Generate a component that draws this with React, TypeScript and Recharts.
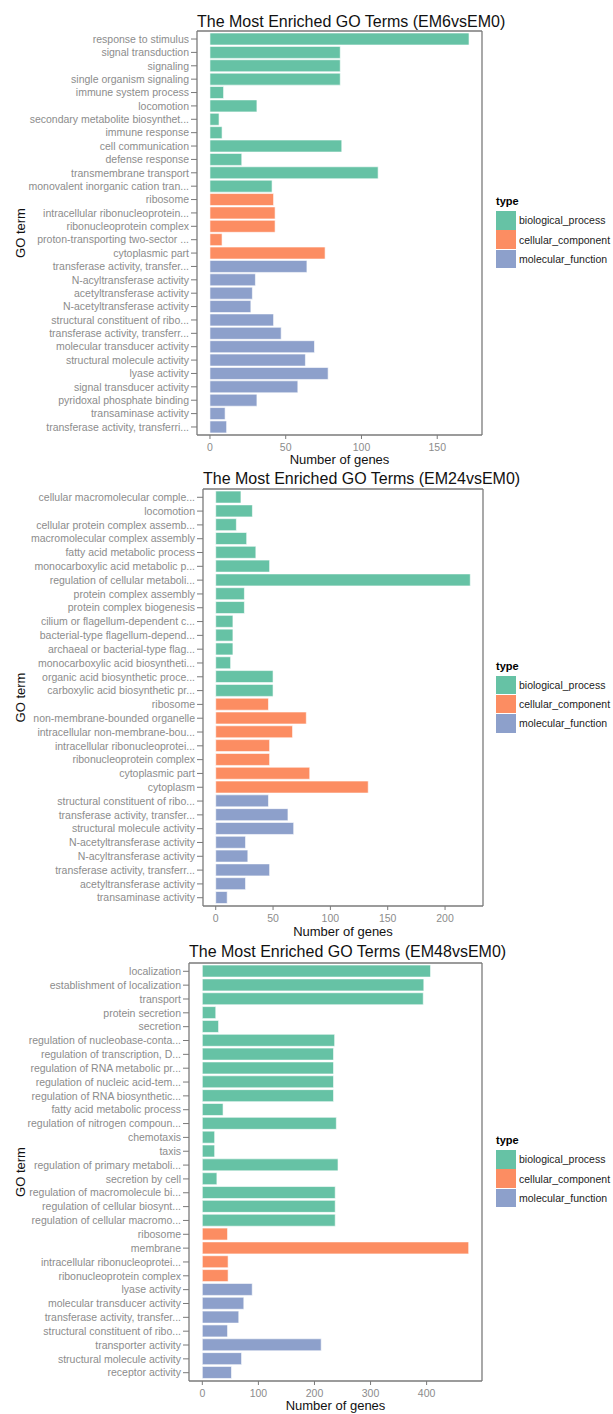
import React from 'react'
import { BarChart, Bar, XAxis, YAxis, Cell, Label, CartesianGrid } from 'recharts'

const font = '"Liberation Sans", Arial, Helvetica, sans-serif'

const typeColors: Record<string, string> = {
  BP: '#66C2A5',
  CC: '#FC8D62',
  MF: '#8DA0CB',
}
const legendTypes = ['BP', 'CC', 'MF']
const legendNames = ['biological_process', 'cellular_component', 'molecular_function']

// EM6 vs EM0
const em6Terms = [
  'response to stimulus', 'signal transduction', 'signaling', 'single organism signaling',
  'immune system process', 'locomotion', 'secondary metabolite biosynthet...', 'immune response',
  'cell communication', 'defense response', 'transmembrane transport', 'monovalent inorganic cation tran...',
  'ribosome', 'intracellular ribonucleoprotein...', 'ribonucleoprotein complex', 'proton-transporting two-sector ...',
  'cytoplasmic part', 'transferase activity, transfer...', 'N-acyltransferase activity', 'acetyltransferase activity',
  'N-acetyltransferase activity', 'structural constituent of ribo...', 'transferase activity, transferr...',
  'molecular transducer activity', 'structural molecule activity', 'lyase activity', 'signal transducer activity',
  'pyridoxal phosphate binding', 'transaminase activity', 'transferase activity, transferri...',
]
const em6Genes = [171, 86, 86, 86, 9, 31, 6, 8, 87, 21, 111, 41, 42, 43, 43, 8, 76, 64, 30, 28, 27, 42, 47, 69, 63, 78, 58, 31, 10, 11]
const em6Types = [
  'BP', 'BP', 'BP', 'BP', 'BP', 'BP', 'BP', 'BP', 'BP', 'BP', 'BP', 'BP',
  'CC', 'CC', 'CC', 'CC', 'CC',
  'MF', 'MF', 'MF', 'MF', 'MF', 'MF', 'MF', 'MF', 'MF', 'MF', 'MF', 'MF', 'MF',
]
const em6Ticks = [0, 50, 100, 150]

// EM24 vs EM0
const em24Terms = [
  'cellular macromolecular comple...', 'locomotion', 'cellular protein complex assemb...', 'macromolecular complex assembly',
  'fatty acid metabolic process', 'monocarboxylic acid metabolic p...', 'regulation of cellular metaboli...',
  'protein complex assembly', 'protein complex biogenesis', 'cilium or flagellum-dependent c...',
  'bacterial-type flagellum-depend...', 'archaeal or bacterial-type flag...', 'monocarboxylic acid biosyntheti...',
  'organic acid biosynthetic proce...', 'carboxylic acid biosynthetic pr...',
  'ribosome', 'non-membrane-bounded organelle', 'intracellular non-membrane-bou...', 'intracellular ribonucleoprotei...',
  'ribonucleoprotein complex', 'cytoplasmic part', 'cytoplasm',
  'structural constituent of ribo...', 'transferase activity, transfer...', 'structural molecule activity',
  'N-acetyltransferase activity', 'N-acyltransferase activity', 'transferase activity, transferr...',
  'acetyltransferase activity', 'transaminase activity',
]
const em24Genes = [22, 32, 18, 27, 35, 47, 222, 25, 25, 15, 15, 15, 13, 50, 50, 46, 79, 67, 47, 47, 82, 133, 46, 63, 68, 26, 28, 47, 26, 10]
const em24Types = [
  'BP', 'BP', 'BP', 'BP', 'BP', 'BP', 'BP', 'BP', 'BP', 'BP', 'BP', 'BP', 'BP', 'BP', 'BP',
  'CC', 'CC', 'CC', 'CC', 'CC', 'CC', 'CC',
  'MF', 'MF', 'MF', 'MF', 'MF', 'MF', 'MF', 'MF',
]
const em24Ticks = [0, 50, 100, 150, 200]

// EM48 vs EM0
const em48Terms = [
  'localization', 'establishment of localization', 'transport', 'protein secretion', 'secretion',
  'regulation of nucleobase-conta...', 'regulation of transcription, D...', 'regulation of RNA metabolic pr...',
  'regulation of nucleic acid-tem...', 'regulation of RNA biosynthetic...', 'fatty acid metabolic process',
  'regulation of nitrogen compoun...', 'chemotaxis', 'taxis', 'regulation of primary metaboli...',
  'secretion by cell', 'regulation of macromolecule bi...', 'regulation of cellular biosynt...',
  'regulation of cellular macromo...',
  'ribosome', 'membrane', 'intracellular ribonucleoprotei...', 'ribonucleoprotein complex',
  'lyase activity', 'molecular transducer activity', 'transferase activity, transfer...',
  'structural constituent of ribo...', 'transporter activity', 'structural molecule activity', 'receptor activity',
]
const em48Genes = [407, 395, 394, 24, 29, 236, 234, 234, 234, 234, 37, 239, 22, 22, 242, 26, 237, 237, 237, 45, 475, 46, 46, 89, 74, 65, 45, 212, 70, 52]
const em48Types = [
  'BP', 'BP', 'BP', 'BP', 'BP', 'BP', 'BP', 'BP', 'BP', 'BP', 'BP', 'BP', 'BP', 'BP', 'BP', 'BP', 'BP', 'BP', 'BP',
  'CC', 'CC', 'CC', 'CC',
  'MF', 'MF', 'MF', 'MF', 'MF', 'MF', 'MF',
]
const em48Ticks = [0, 100, 200, 300, 400]

const frame = '#7a7a7a'
const tickGrey = '#8c8c8c'

const GoTermLabel = (props: any) => {
  const vb = props.viewBox || { y: 0, height: 0 }
  const cy = vb.y + vb.height / 2
  return (
    <text x={25} y={cy} transform={`rotate(-90, 25, ${cy})`} textAnchor="middle" fontSize={13} fill="#111">
      GO term
    </text>
  )
}

// plain one-line tick so long GO names are not wrapped
const TermTick = (props: any) => {
  const { x, y, payload } = props
  return (
    <text x={x} y={y} dy="0.355em" textAnchor="end" fontSize={10.5} fill={tickGrey}>
      {payload.value}
    </text>
  )
}

// top and right sides of the panel border
const topEdge = ({ offset }: any) => [offset.top]
const rightEdge = ({ offset }: any) => [offset.left + offset.width]

function TypeLegend({ cy }: { cy: number }) {
  return (
    <div style={{ position: 'absolute', left: 496, top: cy - 38.8, fontFamily: font }}>
      <div style={{ fontSize: 11, fontWeight: 'bold', lineHeight: '14px', height: 16.5 }}>type</div>
      {legendTypes.map((t, i) => (
        <div key={t} style={{ display: 'flex', alignItems: 'center', height: 19.3 }}>
          <div style={{ width: 20, height: 18.5, background: typeColors[t] }} />
          <span style={{ marginLeft: 3, fontSize: 10.5, color: '#222' }}>{legendNames[i]}</span>
        </div>
      ))}
    </div>
  )
}

function GoPanel(props: any) {
  const { top, height, title, terms, genes, types, ticks, plot, titleBaseline, xTitleOffset } = props
  const data = terms.map((term: string, i: number) => ({ term, genes: genes[i], type: types[i] }))
  const max = Math.max(...genes)
  const dom = [-0.05 * max, 1.05 * max]
  const plotH = plot.bottom - plot.top
  const pad = plotH / 302
  const cy = (plot.top + plot.bottom) / 2
  return (
    <>
      <div
        style={{
          position: 'absolute', left: plot.left, width: plot.right - plot.left, top: titleBaseline - 13.5,
          textAlign: 'center', fontSize: 16, lineHeight: '16px', whiteSpace: 'nowrap', fontFamily: font, color: '#111',
        }}
      >
        {title}
      </div>
      <div style={{ position: 'absolute', left: 0, top }}>
        <BarChart
          width={613}
          height={height}
          data={data}
          layout="vertical"
          margin={{ top: plot.top - top, right: 613 - plot.right, left: 0, bottom: 0 }}
          barCategoryGap="5%"
        >
          <CartesianGrid
            stroke={frame}
            strokeWidth={1.3}
            horizontalCoordinatesGenerator={topEdge}
            verticalCoordinatesGenerator={rightEdge}
          />
          <XAxis
            type="number"
            dataKey="genes"
            domain={dom}
            ticks={ticks}
            allowDataOverflow
            height={height - (plot.bottom - top)}
            tickSize={4}
            tickMargin={5}
            axisLine={{ stroke: frame, strokeWidth: 1.3 }}
            tickLine={{ stroke: frame }}
            tick={{ fill: tickGrey, fontSize: 10.5 }}
          >
            <Label value="Number of genes" position="insideBottom" offset={xTitleOffset} style={{ fontSize: 13, fill: '#111' }} />
          </XAxis>
          <YAxis
            type="category"
            dataKey="term"
            width={plot.left}
            padding={{ top: pad, bottom: pad }}
            interval={0}
            tickSize={6}
            tickMargin={2}
            axisLine={{ stroke: frame, strokeWidth: 1.3 }}
            tickLine={{ stroke: frame }}
            tick={<TermTick />}
            label={<GoTermLabel />}
          />
          <Bar dataKey="genes" isAnimationActive={false} stroke="#ffffff" strokeWidth={0.6}>
            {data.map((d: any, i: number) => (
              <Cell key={`cell-${i}`} fill={typeColors[d.type]} />
            ))}
          </Bar>
        </BarChart>
      </div>
      <TypeLegend cy={cy} />
    </>
  )
}

export default function App() {
  return (
    <div style={{ position: 'absolute', left: 0, top: 0, width: 613, height: 1414, fontFamily: font, background: '#fff' }}>
      <GoPanel
        top={0}
        height={470}
        title="The Most Enriched GO Terms (EM6vsEM0)"
        terms={em6Terms}
        genes={em6Genes}
        types={em6Types}
        ticks={em6Ticks}
        plot={{ left: 197, right: 482, top: 31, bottom: 435 }}
        titleBaseline={27}
        xTitleOffset={6}
      />
      <GoPanel
        top={470}
        height={470}
        title="The Most Enriched GO Terms (EM24vsEM0)"
        terms={em24Terms}
        genes={em24Genes}
        types={em24Types}
        ticks={em24Ticks}
        plot={{ left: 203, right: 483, top: 489, bottom: 906 }}
        titleBaseline={484}
        xTitleOffset={4}
      />
      <GoPanel
        top={940}
        height={474}
        title="The Most Enriched GO Terms (EM48vsEM0)"
        terms={em48Terms}
        genes={em48Genes}
        types={em48Types}
        ticks={em48Ticks}
        plot={{ left: 189, right: 482, top: 963, bottom: 1381 }}
        titleBaseline={957}
        xTitleOffset={4}
      />
    </div>
  )
}
